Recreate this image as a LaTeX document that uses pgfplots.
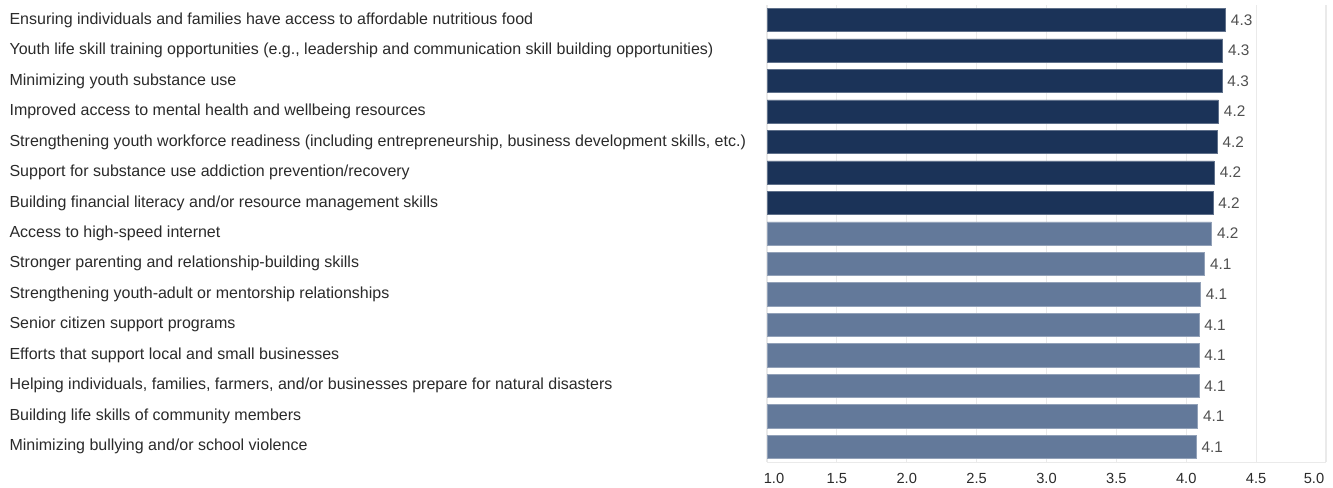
\documentclass[border=0pt]{standalone}
\usepackage{fontspec}
\setmainfont{Liberation Sans}
\usepackage{pgfplots}
\pgfplotsset{compat=1.18}

\definecolor{navy}{HTML}{1B3358}
\definecolor{slate}{HTML}{63799A}
\definecolor{labelgray}{HTML}{2A2A2A}
\definecolor{valgray}{HTML}{505050}
\definecolor{gridgray}{HTML}{EAEAEA}

\begin{document}
\begin{tikzpicture}
% 1 px of the reference = 0.75pt
\useasboundingbox (0,0) rectangle (999.75pt,-366pt);
\begin{axis}[
  at={(575.25pt,-3.57pt)}, anchor=north west,
  scale only axis,
  width=419.25pt, height=342.9pt,
  xmin=1, xmax=5,
  ymin=-0.5, ymax=14.5,
  y dir=reverse,
  xbar, bar width=0.76, bar shift=0pt,
  axis line style={draw=none},
  tick style={draw=none},
  xmajorgrids, grid style={gridgray, line width=0.8pt},
  xtick={1,1.5,2,2.5,3,3.5,4,4.5,5},
  xticklabels={\hspace*{10.5pt}1.0,1.5,2.0,2.5,3.0,3.5,4.0,4.5,5.0\hspace*{18pt}},
  xticklabel style={font=\fontsize{11}{13}\selectfont, text=labelgray, yshift=-5pt},
  ytick={0,...,14},
  yticklabels={
    Ensuring individuals and families have access to affordable nutritious food,
    {Youth life skill training opportunities (e.g., leadership and communication skill building opportunities)},
    Minimizing youth substance use,
    Improved access to mental health and wellbeing resources,
    {Strengthening youth workforce readiness (including entrepreneurship, business development skills, etc.)},
    Support for substance use addiction prevention/recovery,
    Building financial literacy and/or resource management skills,
    Access to high-speed internet,
    Stronger parenting and relationship-building skills,
    Strengthening youth-adult or mentorship relationships,
    Senior citizen support programs,
    Efforts that support local and small businesses,
    {Helping individuals, families, farmers, and/or businesses prepare for natural disasters},
    Building life skills of community members,
    Minimizing bullying and/or school violence},
  yticklabel style={anchor=west, inner sep=0pt, xshift=-564pt,
    font=\fontsize{12}{14}\selectfont, text=labelgray},
  /pgf/number format/assume math mode=true,
  point meta=x,
  nodes near coords={\pgfmathprintnumber[fixed,precision=1,fixed zerofill]{\pgfplotspointmeta}},
  nodes near coords style={anchor=west, inner sep=4pt, text=valgray,
    font=\fontsize{11.5}{13}\selectfont},
  clip=false,
]
\draw[gridgray, line width=0.8pt] (axis cs:1,14.52) -- (axis cs:5,14.52);
\addplot[fill=navy, draw=navy!70!white, line width=0.4pt] coordinates {
  (4.28,0) (4.26,1) (4.255,2) (4.23,3) (4.22,4) (4.20,5) (4.19,6)
};
\addplot[fill=slate, draw=slate!70!white, line width=0.4pt] coordinates {
  (4.18,7) (4.13,8) (4.10,9) (4.09,10) (4.09,11) (4.09,12) (4.08,13) (4.07,14)
};
\end{axis}
\end{tikzpicture}
\end{document}
